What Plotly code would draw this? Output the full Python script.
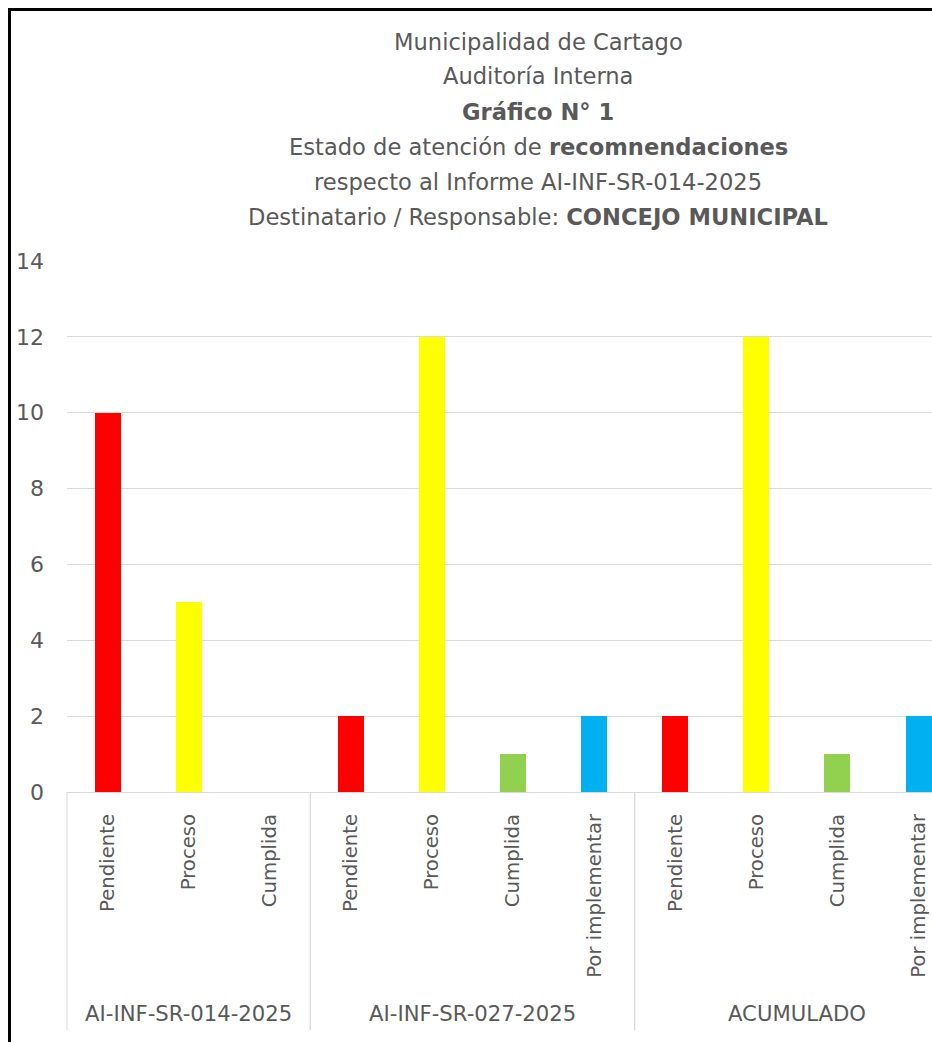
import plotly.graph_objects as go

# ---------------- data ----------------
groups = ["AI-INF-SR-014-2025", "AI-INF-SR-027-2025", "ACUMULADO"]
statuses_g1 = ["Pendiente", "Proceso", "Cumplida"]
values_g1 = [10, 5, 0]
statuses_g2 = ["Pendiente", "Proceso", "Cumplida", "Por implementar"]
values_g2 = [2, 12, 1, 2]
statuses_g3 = ["Pendiente", "Proceso", "Cumplida", "Por implementar"]
values_g3 = [2, 12, 1, 2]
y_ticks = [0, 2, 4, 6, 8, 10, 12, 14]

status_colors = {
    "Pendiente": "#FF0000",
    "Proceso": "#FFFF00",
    "Cumplida": "#92D050",
    "Por implementar": "#00B0F0",
}

title_lines = [
    "Municipalidad de Cartago",
    "Auditoría Interna",
    "<b>Gráfico N° 1</b>",
    "Estado de atención de <b>recomnendaciones</b>",
    "respecto al Informe AI-INF-SR-014-2025",
    "Destinatario / Responsable: <b>CONCEJO MUNICIPAL</b>",
]

# ---------------- layout constants ----------------
W, H = 932, 1042
L, T, B = 67, 261, 792           # plot area pixel edges
PW, PH = W - L, B - T
CAT_PX = 81.1
FONT = "DejaVu Sans"
TXT = "#595959"
GRID = "#d9d9d9"

def px_x(p):  # pixel -> paper
    return (p - L) / PW

def px_y(p):
    return (B - p) / PH

# build flat category list
group_members = [(groups[0], statuses_g1, values_g1),
                 (groups[1], statuses_g2, values_g2),
                 (groups[2], statuses_g3, values_g3)]
xs, labels, vals, cols, bounds = [], [], [], [], []
i = 0
for g, sts, vs in group_members:
    start = i
    for s, v in zip(sts, vs):
        xs.append(i)
        labels.append(s)
        vals.append(v)
        cols.append(status_colors[s])
        i += 1
    bounds.append((g, start, i - 1))

xmin = -0.5
xmax = -0.5 + PW / CAT_PX

def cat_to_paper(x):
    return (x - xmin) / (xmax - xmin)

fig = go.Figure(go.Bar(
    x=xs, y=vals, width=0.32,
    marker=dict(color=cols, line=dict(width=0)),
    hoverinfo="skip",
))

shapes = []
annotations = []

# group separator lines
for g, s, e in bounds:
    for xb in (s - 0.5, e + 0.5):
        xp = cat_to_paper(xb)
        if 0 <= xp <= 1.0:
            shapes.append(dict(type="line", xref="paper", yref="paper",
                               x0=xp, x1=xp, y0=0, y1=px_y(1030),
                               line=dict(color=GRID, width=1)))
    annotations.append(dict(x=(s + e) / 2, xref="x", y=px_y(1013), yref="paper",
                            text=g, showarrow=False, yanchor="middle",
                            font=dict(family=FONT, size=21.2, color=TXT)))

# border (black frame, cropped on right/bottom)
shapes.append(dict(type="rect", xref="paper", yref="paper",
                   x0=px_x(9.5), x1=px_x(W + 40), y0=px_y(H + 40), y1=px_y(9.5),
                   line=dict(color="black", width=3), fillcolor="rgba(0,0,0,0)",
                   layer="above"))

# title lines
title_y = [42, 76, 112, 147, 182, 217]
for txt, yc in zip(title_lines, title_y):
    annotations.append(dict(x=px_x(538), xref="paper", y=px_y(yc), yref="paper",
                            text=txt, showarrow=False, xanchor="center", yanchor="middle",
                            font=dict(family=FONT, size=22.6, color=TXT)))

fig.update_layout(
    width=W, height=H,
    margin=dict(l=L, r=0, t=T, b=H - B, pad=0),
    paper_bgcolor="white", plot_bgcolor="white",
    showlegend=False,
    bargap=0,
    shapes=shapes,
    annotations=annotations,
    xaxis=dict(
        range=[xmin, xmax], tickmode="array", tickvals=xs, ticktext=labels,
        tickangle=-90, showgrid=False, zeroline=False,
        showline=True, linecolor=GRID, linewidth=1,
        ticks="", ticklabelstandoff=13,
        tickfont=dict(family=FONT, size=19.7, color=TXT),
        fixedrange=True,
    ),
    yaxis=dict(
        range=[0, 14], tickmode="array", tickvals=y_ticks,
        showgrid=True, gridcolor=GRID, gridwidth=1, zeroline=False,
        showline=False, ticks="", ticklabelstandoff=22,
        tickfont=dict(family=FONT, size=22, color=TXT),
        fixedrange=True,
    ),
)

fig.write_html(
    "out.html",
    config={"displayModeBar": False},
    post_script="document.body.style.margin='0';document.body.style.overflow='hidden';",
)
